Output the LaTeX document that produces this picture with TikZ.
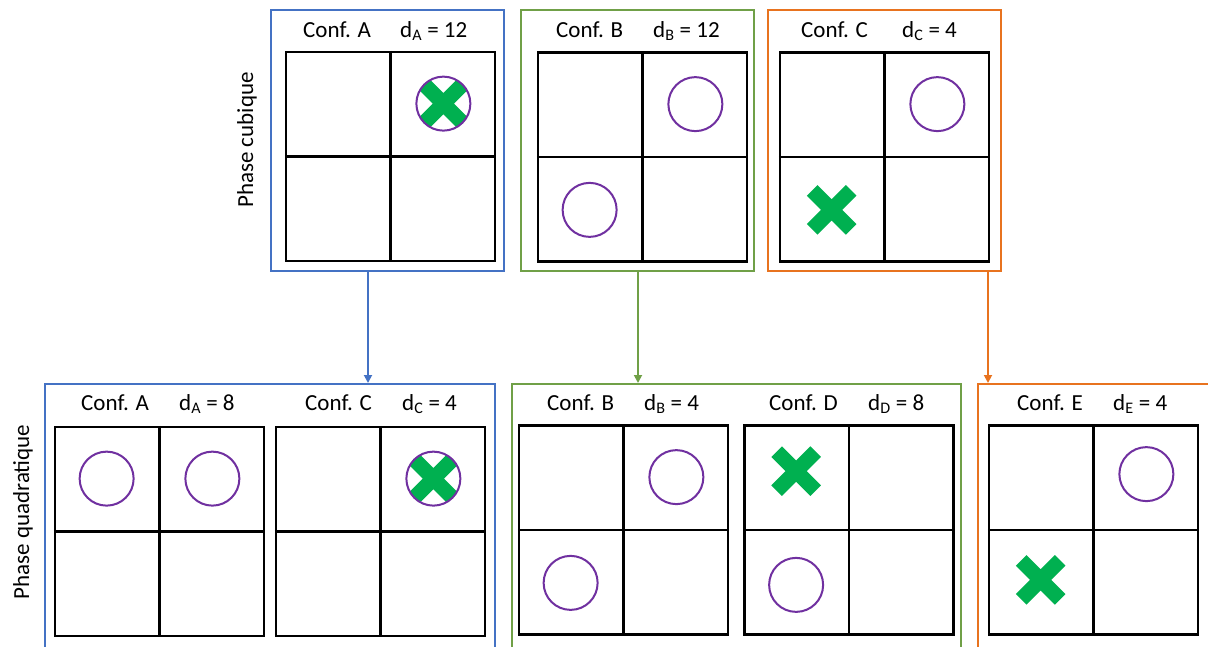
\documentclass[tikz,border=0pt]{standalone}
\usepackage{fontspec}
\setmainfont{Carlito}
\usetikzlibrary{arrows.meta,calc}
\definecolor{bleu}{HTML}{4472C4}
\definecolor{vert}{HTML}{70A047}
\definecolor{orange}{HTML}{E8731F}
\definecolor{violet}{HTML}{7030A0}
\definecolor{croixvert}{HTML}{00B050}

% grille 2x2 : nom, x, y du centre
\newcommand{\grille}[3]{%
  \node[grille] (#1) at (#2,#3) {};
  \draw[trait] (#1.north) -- (#1.south) (#1.west) -- (#1.east);
  \coordinate (#1-hg) at ($(#1.center)!0.5!(#1.north west)$);
  \coordinate (#1-hd) at ($(#1.center)!0.5!(#1.north east)$);
  \coordinate (#1-bg) at ($(#1.center)!0.5!(#1.south west)$);
  \coordinate (#1-bd) at ($(#1.center)!0.5!(#1.south east)$);}
\newcommand{\rond}[1]{\draw[rond] (#1) circle (27pt);}
\newcommand{\croix}[1]{\draw[croix] (#1) ++(-19.5,-19.5) -- ++(39,39) (#1) ++(19.5,-19.5) -- ++(-39,39);}
\newcommand{\rondcroix}[1]{\begin{scope}\clip (#1) circle (27pt); \croix{#1}\end{scope}\rond{#1}}

\begin{document}
\begin{tikzpicture}[
  x=1pt,y=-1pt,
  font=\fontsize{23}{27}\selectfont,
  cadre/.style={draw,line width=2pt,fill=white,inner sep=0pt},
  grille/.style={draw,line width=2.5pt,minimum size=209pt,inner sep=0pt},
  trait/.style={line width=2.5pt},
  rond/.style={draw=violet,line width=2pt},
  croix/.style={draw=croixvert,line width=15pt},
  titre/.style={anchor=base west,inner sep=0pt},
  fleche/.style={-{Triangle[length=8pt,width=8pt]},line width=1.8pt}
]
  \useasboundingbox (0,0) rectangle (1208,646);
  \clip (0,0) rectangle (1208,646);

  % phase cubique
  \node[cadre,draw=bleu,minimum width=233pt,minimum height=261pt] (cubA) at (387.5,140.5) {};
  \node[cadre,draw=vert,minimum width=233pt,minimum height=261pt] (cubB) at (637.5,140.5) {};
  \node[cadre,draw=orange,minimum width=233pt,minimum height=261pt] (cubC) at (884.5,140.5) {};
  \node[rotate=90] (phcub) at (247,140) {Phase cubique};

  \node[titre] (tA1) at (303,37) {Conf. A};
  \node[titre] (dA1) at (400,37) {d\textsubscript{A} = 12};
  \node[titre] (tB1) at (556,37) {Conf. B};
  \node[titre] (dB1) at (653,37) {d\textsubscript{B} = 12};
  \node[titre] (tC1) at (801,37) {Conf. C};
  \node[titre] (dC1) at (902,37) {d\textsubscript{C} = 4};

  \grille{gA1}{390.5}{156.5}
  \grille{gB1}{642.5}{157}
  \grille{gC1}{884.5}{157}

  \rondcroix{gA1-hd}
  \rond{gB1-hd}
  \rond{gB1-bg}
  \rond{gC1-hd}
  \croix{gC1-bg}

  % phase quadratique
  \node[cadre,draw=bleu,minimum width=450pt,minimum height=290pt] (quad1) at (270,529) {};
  \node[cadre,draw=vert,minimum width=449pt,minimum height=290pt] (quad2) at (736.5,529) {};
  \node[cadre,draw=orange,minimum width=260pt,minimum height=290pt] (quad3) at (1108,529) {};
  \node[rotate=90] (phquad) at (23,512) {Phase quadratique};

  \node[titre] (tA2) at (81,410) {Conf. A};
  \node[titre] (dA2) at (179,410) {d\textsubscript{A} = 8};
  \node[titre] (tC2) at (305,410) {Conf. C};
  \node[titre] (dC2) at (402,410) {d\textsubscript{C} = 4};
  \node[titre] (tB2) at (547,410) {Conf. B};
  \node[titre] (dB2) at (644,410) {d\textsubscript{B} = 4};
  \node[titre] (tD2) at (769,410) {Conf. D};
  \node[titre] (dD2) at (868,410) {d\textsubscript{D} = 8};
  \node[titre] (tE2) at (1017,410) {Conf. E};
  \node[titre] (dE2) at (1113,410) {d\textsubscript{E} = 4};

  \grille{gA2}{159.5}{531.5}
  \grille{gC2}{380.5}{531.5}
  \grille{gB2}{623.5}{530}
  \grille{gD2}{849}{530}
  \grille{gE2}{1093.5}{530}

  \rond{gA2-hg}
  \rond{gA2-hd}
  \rondcroix{gC2-hd}
  \rond{gB2-hd}
  \rond{gB2-bg}
  \croix{$(gD2-hg)+(0,-6)$}
  \rond{$(gD2-bg)+(0,2)$}
  \rond{$(gE2-hd)+(0,-3)$}
  \croix{$(gE2-bg)+(0,-3)$}

  % passages
  \draw[fleche,bleu] (cubA.south -| 368,0) -- (quad1.north -| 368,0);
  \draw[fleche,vert] (cubB.south -| 638,0) -- (quad2.north -| 638,0);
  \draw[fleche,orange] (cubC.south -| 988,0) -- (quad3.north -| 988,0);
\end{tikzpicture}
\end{document}
